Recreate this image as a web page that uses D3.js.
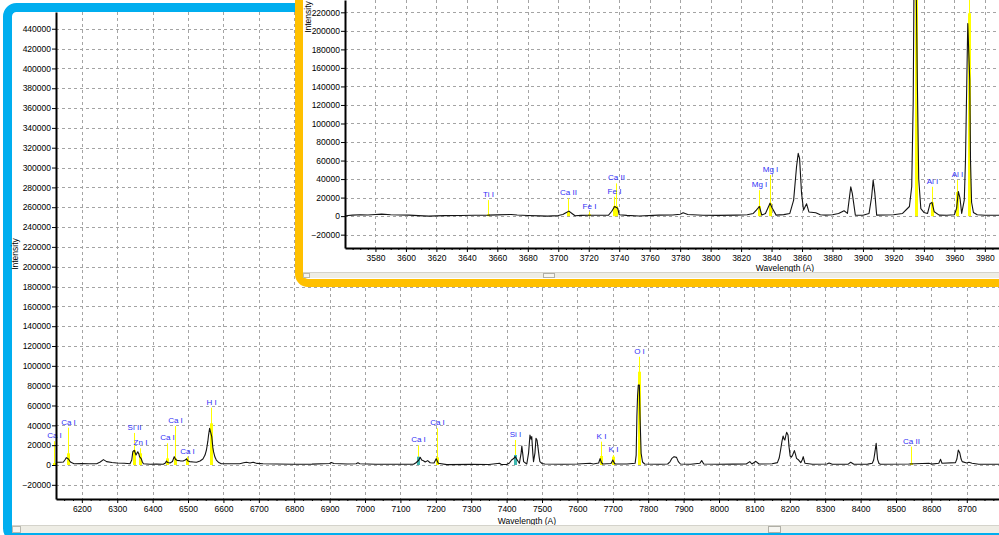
<!DOCTYPE html>
<html>
<head>
<meta charset="utf-8">
<script src="https://cdn.jsdelivr.net/npm/d3@7"></script>
<style>
  html, body { margin: 0; padding: 0; background: #fff; overflow: hidden; }
  svg { display: block; font-family: "Liberation Sans", Arial, sans-serif; }
</style>
</head>
<body>
<svg id="chart" width="999" height="535"></svg>
<script>
// ---------- Red / near-infrared window (6127–8791 Å) ----------
const mainWl = [6127,6140,6148,6153,6156,6159,6162,6166,6169,6178,6200,6220,6242,6252,6261,6270,6285,6299,6320,6336,
  6341,6344,6348,6351,6353,6358,6361,6363,6368,6371,6374,6393,6410,6430,6436,6439,6443,6449,6456,6461,
  6465,6469,6478,6486,6492,6496,6500,6505,6515,6524,6534,6542,6548,6552,6556,6558,6561,6564,6567,6570,
  6572,6576,6580,6587,6594,6620,6646,6657,6665,6675,6684,6695,6712,6750,6797,6850,6900,6905,6912,6950,
  6975,6980,6985,7030,7080,7120,7137,7144,7151,7156,7160,7165,7170,7177,7184,7195,7201,7207,7231,7300,
  7350,7380,7385,7400,7408,7414,7420,7424,7430,7436,7441,7443,7446,7448,7457,7462,7466,7469,7471,7474,
  7476,7480,7483,7486,7489,7492,7494,7500,7508,7560,7600,7636,7645,7660,7664,7668,7672,7695,7700,7704,
  7707,7740,7763,7766,7768,7770,7772,7775,7777,7780,7784,7790,7832,7855,7862,7867,7873,7880,7885,7891,
  7920,7946,7951,7957,8000,8040,8077,8087,8093,8104,8113,8150,8165,8170,8174,8178,8181,8184,8186,8189,
  8191,8195,8198,8201,8205,8208,8213,8216,8219,8225,8231,8235,8238,8241,8243,8264,8305,8311,8320,8365,
  8372,8381,8420,8433,8437,8440,8444,8448,8452,8456,8536,8593,8600,8621,8626,8630,8668,8672,8676,8680,
  8684,8687,8700,8706,8715,8734,8791];
const mainIntensity = [2700,2700,3000,5500,7400,6800,6100,4000,2700,1300,1500,1200,1300,3000,5400,3400,2500,2000,1800,1300,
  5000,13400,14800,12000,10100,13400,11000,8400,6100,3000,1300,700,900,700,2000,4000,2500,2000,3500,8400,
  5500,4700,4200,4000,5000,6100,4000,3400,3000,2700,4000,6100,10000,15100,24000,30200,37000,33000,28600,18000,
  13400,8000,5000,2500,1300,1200,1300,2200,2700,2000,2700,1600,1300,1000,700,900,1500,2500,1500,1000,
  1200,2200,1200,700,700,800,700,2300,4500,7700,5000,4200,3000,4400,2300,2000,6400,1700,400,600,
  500,1700,500,500,2000,5000,6500,8400,5000,1700,12000,19200,10000,3400,1000,12000,30200,26000,28600,12000,
  3400,12000,26900,25000,16800,8000,3400,1500,1000,800,1000,1700,1000,2000,6400,2500,1000,1500,5000,2000,
  1000,1000,1700,10000,48800,70000,80700,80700,47100,11800,3000,1000,700,1000,3500,6700,8400,7700,3400,1000,
  800,1700,4400,1000,800,900,1000,3400,1000,3700,1000,1200,2400,7000,15100,24000,29200,26000,25200,30000,
  32900,30200,18000,9100,8000,10100,14500,11000,6700,5000,2400,5000,8400,4000,1700,700,1000,2000,700,900,
  2700,700,900,1700,5000,11800,21900,5700,1500,700,1000,1700,900,1700,5700,1700,2400,6000,15100,12400,
  6000,3400,2000,2700,1700,700,700];

// Identified emission lines in the red window
const mainLineWl    = [6122.5, 6162, 6348, 6364, 6440, 6463, 6496, 6564, 7149, 7202, 7424, 7666, 7700, 7773, 8542];
const mainLineLabel = ["Ca I","Ca I","Si II","Zn I","Ca I","Ca I","Ca I","H I","Ca I","Ca I","Si I","K I","K I","O I","Ca II"];
const mainLineTop   = [24000, 37600, 32300, 16800, 21900, 39300, 8400, 57800, 19800, 37000, 25200, 23500, 10100, 109200, 18500];
const mainLineBar   = [2000, 11800, 15100, 11800, 6700, 6700, 6700, 42000, 8400, 7700, 10100, 9100, 8400, 94100, 2000];

const mainXTicks = [6200,6300,6400,6500,6600,6700,6800,6900,7000,7100,7200,7300,7400,7500,7600,7700,7800,7900,8000,8100,8200,8300,8400,8500,8600,8700];
const mainYTicks = [-20000,0,20000,40000,60000,80000,100000,120000,140000,160000,180000,200000,220000,240000,260000,280000,300000,320000,340000,360000,380000,400000,420000,440000];

// ---------- Near-UV window (3560–3989 Å) ----------
const insetWl = [3560,3562,3565,3570,3575,3580,3584,3590,3602,3608,3615,3625,3636,3645,3654,3660,3669,3673,3680,3688,
  3693,3700,3703,3705,3707,3709,3711,3715,3720,3726,3733,3735,3737,3739,3740,3745,3753,3766,3775,3780,
  3782,3785,3795,3805,3817,3824,3828,3830,3832,3833.6,3836,3839,3840.5,3843,3848,3852,3854.5,3856.4,3857.5,3858.4,
  3859.7,3861,3863,3864.5,3869,3872,3875.5,3880,3884,3887.6,3889.8,3890.9,3892,3893,3895,3900,3904,3905.7,3906.7,3907.8,
  3909,3915,3920,3926,3930.5,3932,3933,3933.7,3934.6,3935.6,3936.6,3938,3940,3942.4,3944,3945.3,3946.8,3950,3955,3960,
  3961.5,3962.6,3963.7,3964.8,3966.5,3967.3,3968,3968.8,3969.5,3970.1,3970.6,3971.3,3972.5,3975,3980,3989.3];
const insetIntensity = [0,600,1100,1500,1200,1800,2200,1500,1100,500,0,500,700,1000,1100,1400,1800,1200,700,300,
  0,600,1800,3600,5400,2900,400,800,1000,1000,1100,5000,10400,8600,1500,800,200,1100,1200,2000,
  3600,1800,1000,800,1100,1500,2900,6500,10400,1100,2900,14000,8600,1100,1600,2900,17300,53300,67700,62300,
  24500,6500,13300,4500,3600,1500,1100,1500,2900,5800,2900,17300,31700,24500,1100,1000,2900,20900,38900,24500,
  1100,1200,1500,2900,10400,31700,125000,300000,300000,157000,40000,8000,4000,2900,13300,14800,4700,1100,1000,1500,
  8600,26600,19400,2900,17300,60000,130000,208000,175000,147000,60000,15000,4000,1500,1000,1000];

// Identified emission lines in the near-UV window
const insetLineWl    = [3653.6, 3706.5, 3720, 3736.8, 3738.2, 3832, 3838.8, 3935, 3945, 3962, 3969.7];
const insetLineLabel = ["Ti I","Ca II","Fe I","Fe I","Ca II","Mg I","Mg I","Ca II","Al I","Al I","Ca II"];
const insetLineTop   = [17300, 19100, 4700, 20900, 35300, 28000, 44300, 300000, 31700, 38900, 300000];
const insetLineBar   = [2000, 5000, 2000, 11000, 11000, 11000, 14000, 300000, 14800, 26000, 219000];

const insetXTicks = [3580,3600,3620,3640,3660,3680,3700,3720,3740,3760,3780,3800,3820,3840,3860,3880,3900,3920,3940,3960,3980];
const insetYTicks = [-20000,0,20000,40000,60000,80000,100000,120000,140000,160000,180000,200000,220000,240000];

// ---------- drawing ----------
const svg = d3.select("#chart");
const defs = svg.append("defs");
const FONT = '"Liberation Sans", Arial, sans-serif';
const GRID = "#a4a4a4";
const LABEL_BLUE = "#2f2ff5";
const LINE_YELLOW = "#ffff00";
const teal = new Set([7149, 7424]); // lines flagged with a teal marker foot

function scrollbar(x, y, w, h, thumbX, thumbW) {
  const g = svg.append("g");
  g.append("rect").attr("x", x).attr("y", y).attr("width", w).attr("height", h).attr("fill", "#eeede5");
  g.append("line").attr("x1", x).attr("x2", x + w).attr("y1", y + 0.5).attr("y2", y + 0.5).attr("stroke", "#d4d3cb");
  g.append("rect").attr("x", x + 0.5).attr("y", y + 1.5).attr("width", h).attr("height", h - 2)
    .attr("fill", "#f6f5f0").attr("stroke", "#b9b8b0");
  g.append("rect").attr("x", thumbX + 0.5).attr("y", y + 1.5).attr("width", thumbW).attr("height", h - 2)
    .attr("fill", "#f6f5f0").attr("stroke", "#b0afa7");
}

function drawPanel(cfg) {
  const x = d3.scaleLinear().domain(cfg.xDomain).range([cfg.left, cfg.right]);
  const y = d3.scaleLinear().domain(cfg.yDomain).range([cfg.bottom, cfg.top]);
  const g = svg.append("g");

  // dashed grid
  const grid = g.append("g").attr("stroke", GRID).attr("stroke-width", 1).attr("stroke-dasharray", "3,3");
  grid.selectAll("line.gx").data(cfg.xTicks).join("line").attr("class", "gx")
    .attr("x1", d => Math.round(x(d)) + 0.5).attr("x2", d => Math.round(x(d)) + 0.5)
    .attr("y1", cfg.top).attr("y2", cfg.bottom);
  const yIn = cfg.yTicks.filter(v => y(v) >= cfg.top && y(v) <= cfg.bottom);
  grid.selectAll("line.gy").data(yIn).join("line").attr("class", "gy")
    .attr("y1", d => Math.round(y(d)) + 0.5).attr("y2", d => Math.round(y(d)) + 0.5)
    .attr("x1", cfg.left).attr("x2", cfg.right);

  // clip regions
  const clipId = cfg.name + "-clip";
  defs.append("clipPath").attr("id", clipId).append("rect")
    .attr("x", cfg.left).attr("y", cfg.top).attr("width", cfg.right - cfg.left).attr("height", cfg.bottom - cfg.top);
  const mClipId = cfg.name + "-mclip";
  defs.append("clipPath").attr("id", mClipId).append("rect")
    .attr("x", cfg.left - 6).attr("y", cfg.top).attr("width", cfg.right - cfg.left + 6).attr("height", cfg.bottom - cfg.top);

  // line identification markers (under the trace)
  const mk = g.append("g").attr("clip-path", `url(#${mClipId})`);
  const y0 = y(0);
  cfg.lineWl.forEach((w, i) => {
    const px = Math.round(x(w)) + 0.5;
    mk.append("line").attr("x1", px).attr("x2", px).attr("y1", y0).attr("y2", y(cfg.lineTop[i]))
      .attr("stroke", LINE_YELLOW).attr("stroke-width", 1);
    const bt = y(cfg.lineBar[i]);
    mk.append("rect").attr("x", px - 1.5).attr("width", 3).attr("y", bt).attr("height", Math.max(0, y0 - bt))
      .attr("fill", teal.has(w) ? "#3fb8b0" : LINE_YELLOW);
  });

  // spectrum trace
  const pts = cfg.wl.map((w, i) => [w, cfg.intensity[i]]);
  g.append("path").datum(pts)
    .attr("clip-path", `url(#${clipId})`)
    .attr("fill", "none").attr("stroke", "#141414").attr("stroke-width", 1.1).attr("stroke-linejoin", "round")
    .attr("d", d3.line().x(d => x(d[0])).y(d => y(d[1])));

  const lab = g.append("g").attr("font-family", FONT).attr("font-size", 8).attr("fill", LABEL_BLUE).attr("text-anchor", "middle");
  cfg.lineWl.forEach((w, i) => {
    const ty = y(cfg.lineTop[i]) - 3;
    if (ty < 9) return;
    lab.append("text").attr("x", Math.round(x(w)) + 0.5).attr("y", ty).text(cfg.lineLabel[i]);
  });

  // axes
  const fmt = d3.format("d");
  const ax = g.append("g").attr("transform", `translate(0,${cfg.bottom})`)
    .call(d3.axisBottom(x).tickValues(cfg.xTicks).tickFormat(fmt).tickSize(4).tickPadding(3).tickSizeOuter(0));
  const minorX = [];
  for (let i = 0; i < cfg.xTicks.length - 1; i++) {
    const a = cfg.xTicks[i], b = cfg.xTicks[i + 1];
    for (let k = 1; k < 4; k++) minorX.push(a + (b - a) * k / 4);
  }
  const first = cfg.xTicks[0], step = cfg.xTicks[1] - cfg.xTicks[0];
  for (let k = 1; k < 4; k++) minorX.push(first - step * k / 4);
  const last = cfg.xTicks[cfg.xTicks.length - 1];
  for (let k = 1; k < 4; k++) minorX.push(last + step * k / 4);
  const axm = g.append("g").attr("transform", `translate(0,${cfg.bottom})`)
    .call(d3.axisBottom(x).tickValues(minorX.filter(v => x(v) > cfg.left && x(v) <= cfg.right)).tickFormat("").tickSize(2).tickSizeOuter(0));
  axm.select(".domain").remove();

  const ay = g.append("g").attr("transform", `translate(${cfg.left},0)`)
    .call(d3.axisLeft(y).tickValues(yIn).tickFormat(fmt).tickSize(4).tickPadding(1).tickSizeOuter(0));

  [ax, ay, axm].forEach(a => {
    a.attr("font-family", FONT).attr("font-size", 8.5);
    a.selectAll("text").attr("fill", "#000");
    a.selectAll(".tick line").attr("stroke", "#000");
  });
  ax.select(".domain").attr("stroke", "#000").attr("stroke-width", 2);
  ay.select(".domain").attr("stroke", "#000").attr("stroke-width", 2);

  // axis titles
  g.append("text").attr("x", cfg.xTitle[0]).attr("y", cfg.xTitle[1]).attr("text-anchor", "middle")
    .attr("font-family", FONT).attr("font-size", 8.5).attr("fill", "#000").text("Wavelength (A)");
  g.append("text").attr("transform", `translate(${cfg.yTitle[0]},${cfg.yTitle[1]}) rotate(-90)`)
    .attr("text-anchor", "middle").attr("font-family", FONT).attr("font-size", 8.5).attr("fill", "#000").text("Intensity");
}

// main window frame
svg.append("rect").attr("x", 7.5).attr("y", 7.5).attr("width", 1100).attr("height", 530).attr("rx", 9)
  .attr("fill", "#fff").attr("stroke", "#00aeef").attr("stroke-width", 9);

drawPanel({
  name: "red",
  left: 56, right: 999, top: 12, bottom: 499,
  xDomain: [6127, 8791], yDomain: [-34300, 456900],
  xTicks: mainXTicks, yTicks: mainYTicks,
  wl: mainWl, intensity: mainIntensity,
  lineWl: mainLineWl, lineLabel: mainLineLabel, lineTop: mainLineTop, lineBar: mainLineBar,
  xTitle: [527, 524], yTitle: [18, 254]
});
scrollbar(12, 525, 987, 8, 768, 12);

// near-UV window frame (drawn over the red window)
svg.append("rect").attr("x", 299).attr("y", -20).attr("width", 800).attr("height", 303).attr("rx", 9)
  .attr("fill", "#fff").attr("stroke", "#ffc000").attr("stroke-width", 8);

drawPanel({
  name: "uv",
  left: 345, right: 999, top: 0, bottom: 248,
  xDomain: [3560, 3989.3], yDomain: [-34400, 233300],
  xTicks: insetXTicks, yTicks: insetYTicks,
  wl: insetWl, intensity: insetIntensity,
  lineWl: insetLineWl, lineLabel: insetLineLabel, lineTop: insetLineTop, lineBar: insetLineBar,
  xTitle: [785, 271], yTitle: [311, 17]
});
scrollbar(303, 272, 696, 6, 543, 11);
</script>
</body>
</html>
